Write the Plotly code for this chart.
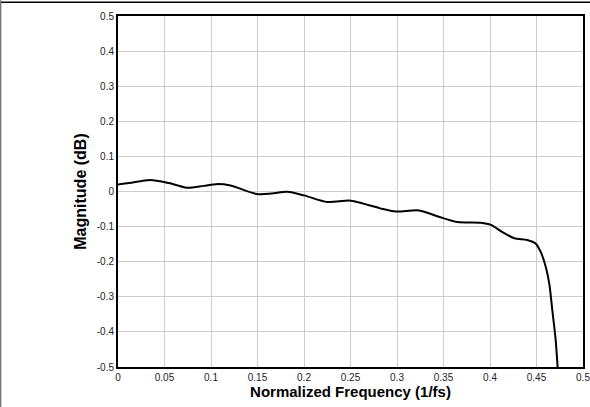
import plotly.graph_objects as go

# normalized frequency (1/fs) and magnitude (dB)
freq = [0.0, 0.012, 0.0345, 0.055, 0.074, 0.092, 0.106, 0.121, 0.149, 0.165, 0.182,
        0.2, 0.225, 0.25, 0.27, 0.282, 0.299, 0.3237, 0.345, 0.365, 0.390, 0.401,
        0.413, 0.426, 0.440, 0.449, 0.455, 0.460, 0.4637, 0.467, 0.4705, 0.4727]
mag = [0.02, 0.024, 0.033, 0.024, 0.011, 0.016, 0.021, 0.017, -0.007, -0.006, -0.001,
       -0.011, -0.030, -0.026, -0.039, -0.048, -0.057, -0.054, -0.072, -0.087, -0.089, -0.095,
       -0.115, -0.133, -0.138, -0.148, -0.175, -0.215, -0.262, -0.338, -0.42, -0.5]

x_ticks = [0, 0.05, 0.1, 0.15, 0.2, 0.25, 0.3, 0.35, 0.4, 0.45, 0.5]
x_labels = ["0", "0.05", "0.1", "0.15", "0.2", "0.25", "0.3", "0.35", "0.4", "0.45", "0.5"]
y_ticks = [0.5, 0.4, 0.3, 0.2, 0.1, 0, -0.1, -0.2, -0.3, -0.4, -0.5]
y_labels = ["0.5", "0.4", "0.3", "0.2", "0.1", "0", "-0.1", "-0.2", "-0.3", "-0.4", "-0.5"]

fig = go.Figure(go.Scatter(
    x=freq, y=mag, mode="lines",
    line=dict(color="black", width=2, shape="spline", smoothing=0.8),
    showlegend=False,
))

axis_common = dict(
    showline=True, linecolor="black", linewidth=2, mirror=True,
    showgrid=True, gridcolor="#cccccc", gridwidth=1,
    zeroline=False, ticks="", tickfont=dict(size=10, color="#222222"),
    automargin=False, ticklabeloverflow="allow",
)

fig.update_xaxes(
    range=[0, 0.5], tickmode="array", tickvals=x_ticks, ticktext=x_labels,
    title=dict(text="<b>Normalized Frequency (1/fs)</b>", font=dict(size=15, color="black"), standoff=2),
    **axis_common,
)
fig.update_yaxes(
    range=[-0.5, 0.5], tickmode="array", tickvals=y_ticks, ticktext=y_labels,
    title=dict(text="<b>Magnitude (dB)</b>", font=dict(size=16, color="black"), standoff=6),
    **axis_common,
)

# outer frame lines of the original image (top black, left grey)
fig.add_shape(type="line", xref="paper", yref="paper", x0=-0.26, x1=1.02, y0=1.039, y1=1.039,
              line=dict(color="black", width=1.5))
fig.add_shape(type="line", xref="paper", yref="paper", x0=-0.2525, x1=-0.2525, y0=-0.12, y1=1.045,
              line=dict(color="#777777", width=1.5))

fig.update_layout(
    width=590, height=407,
    margin=dict(l=118, r=7, t=16, b=40),
    plot_bgcolor="white", paper_bgcolor="white",
    font=dict(family="Liberation Sans, Arial, sans-serif"),
)

fig.write_html("out.html", config={"displayModeBar": False},
               post_script="document.body.style.margin='0';")
